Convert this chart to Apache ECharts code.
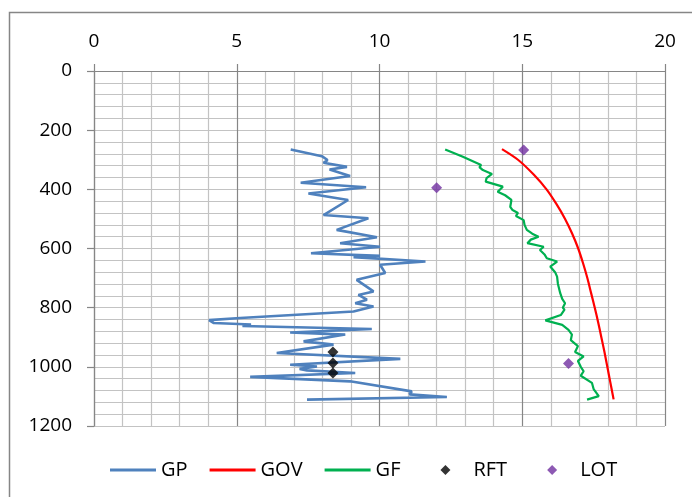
<!DOCTYPE html>
<html>
<head>
<meta charset="utf-8">
<script src="https://cdn.jsdelivr.net/npm/echarts@6/dist/echarts.min.js"></script>
<style>
  html, body { margin: 0; padding: 0; background: #fff; }
  #chart { width: 692px; height: 497px; }
</style>
</head>
<body>
<div id="chart"></div>
<script>
// Pressure gradients vs. depth (x: gradient, y: depth, increasing downward)
const gpDepth = [265, 288, 301, 310, 324, 333, 355, 378, 393, 414, 436, 487, 498, 537, 562, 582, 594, 616, 625, 629, 644, 655, 683, 706, 745, 757, 773, 785, 796, 813, 835, 842, 852, 857, 862, 872, 884, 891, 914, 925, 953, 973, 993, 999, 1007, 1012, 1021, 1034, 1049, 1083, 1088, 1093, 1102, 1111];
const gpValue = [6.89, 7.98, 8.18, 8.04, 8.86, 8.25, 8.97, 7.24, 9.53, 7.51, 8.9, 8.04, 9.61, 8.5, 9.91, 8.62, 10.02, 7.6, 10.02, 9.09, 11.61, 10.02, 10.2, 9.2, 9.79, 9.26, 9.56, 9.15, 9.79, 9.09, 5.12, 4.03, 4.2, 5.5, 5.2, 9.73, 6.87, 8.8, 7.34, 8.39, 6.4, 10.73, 6.87, 7.81, 7.2, 7.46, 9.15, 5.47, 8.97, 11.13, 11.19, 11.05, 12.36, 7.46];

const govDepth = [264, 300, 350, 400, 450, 500, 550, 600, 650, 700, 750, 800, 850, 900, 950, 1000, 1050, 1110];
const govValue = [14.29, 14.85, 15.4, 15.85, 16.2, 16.5, 16.75, 16.96, 17.13, 17.28, 17.41, 17.54, 17.66, 17.77, 17.88, 17.98, 18.08, 18.2];

const gfDepth = [265, 290, 318, 325, 335, 348, 362, 374, 391, 408, 420, 436, 459, 470, 480, 490, 504, 520, 537, 550, 560, 570, 582, 594, 605, 620, 633, 644, 661, 680, 695, 720, 751, 770, 785, 800, 807, 825, 843, 858, 875, 891, 910, 930, 950, 965, 980, 1000, 1015, 1030, 1054, 1075, 1099, 1111];
const gfValue = [12.3, 12.92, 13.56, 13.5, 13.62, 13.94, 13.75, 13.72, 14.32, 14.14, 14.4, 14.62, 14.58, 14.66, 14.85, 14.78, 15.05, 15.08, 15.16, 15.35, 15.57, 15.3, 15.18, 15.75, 15.62, 15.78, 15.86, 16.22, 15.98, 16.15, 16.22, 16.25, 16.33, 16.4, 16.5, 16.42, 16.48, 16.35, 15.81, 16.4, 16.62, 16.74, 16.7, 16.95, 16.85, 17.15, 16.95, 17.05, 17.15, 17.05, 17.44, 17.5, 17.68, 17.27];

const rftDepth = [950, 987, 1021];
const rftValue = [8.37, 8.37, 8.37];

const lotDepth = [267, 395, 989];
const lotValue = [15.05, 12.0, 16.62];

const xTicks = { min: 0, max: 20, step: 5 };
const yTicks = { min: 0, max: 1200, step: 200 };

function pairs(values, depths) {
  return values.map((v, i) => [v, depths[i]]);
}

const FONT = '"Open Sans", "Liberation Sans", sans-serif';
const DARK = '#868686';
const LIGHT = '#c3c3c3';

// Legend icons: a short bar for lines, a small diamond centred in the same slot for points
const LINE_ICON = 'path://M0,4.6 L46,4.6 L46,7.4 L0,7.4 Z';
const DIAMOND_ICON = 'path://M0,0 M46,12 M23,1 L28,6 L23,11 L18,6 Z';

const chart = echarts.init(document.getElementById('chart'), null, { renderer: 'canvas' });

chart.setOption({
  animation: false,
  backgroundColor: '#fff',
  graphic: [{
    type: 'rect',
    shape: { x: 9.5, y: 12.5, width: 720, height: 520 },
    style: { fill: 'none', stroke: DARK, lineWidth: 1.5 },
    silent: true,
    z: 0
  }],
  grid: { left: 94, right: 27, top: 71, bottom: 71 },
  xAxis: {
    type: 'value',
    position: 'top',
    min: xTicks.min, max: xTicks.max, interval: xTicks.step,
    axisLine: { show: true, lineStyle: { color: DARK, width: 1.2 } },
    axisTick: { show: true, length: 7, lineStyle: { color: DARK, width: 1.2 } },
    axisLabel: { fontSize: 19, color: '#000', fontFamily: FONT, margin: 20 },
    splitLine: { show: true, lineStyle: { color: DARK, width: 1.2 } },
    minorTick: { show: false, splitNumber: 5 },
    minorSplitLine: { show: true, lineStyle: { color: LIGHT, width: 1.2 } }
  },
  yAxis: {
    type: 'value',
    inverse: true,
    min: yTicks.min, max: yTicks.max, interval: yTicks.step,
    axisLine: { show: true, lineStyle: { color: DARK, width: 1.2 } },
    axisTick: { show: true, length: 7, lineStyle: { color: DARK, width: 1.2 } },
    axisLabel: { fontSize: 19, color: '#000', fontFamily: FONT, margin: 22, formatter: v => String(v) },
    splitLine: { show: true, lineStyle: { color: LIGHT, width: 1.2 } },
    minorTick: { show: false, splitNumber: 5 },
    minorSplitLine: { show: true, lineStyle: { color: LIGHT, width: 1.2 } }
  },
  legend: {
    left: 105,
    top: 455,
    itemWidth: 46,
    itemHeight: 12,
    itemGap: 22,
    textStyle: { fontSize: 20, color: '#000', fontFamily: FONT },
    data: [
      { name: 'GP', icon: LINE_ICON },
      { name: 'GOV', icon: LINE_ICON },
      { name: 'GF', icon: LINE_ICON },
      { name: 'RFT', icon: DIAMOND_ICON },
      { name: 'LOT', icon: DIAMOND_ICON }
    ]
  },
  series: [
    {
      name: 'GP', type: 'line', data: pairs(gpValue, gpDepth),
      symbol: 'none', color: '#4f81bd',
      lineStyle: { color: '#4f81bd', width: 2.6 }, z: 3
    },
    {
      name: 'GOV', type: 'line', data: pairs(govValue, govDepth),
      symbol: 'none', smooth: 0.3, color: '#ff0000',
      lineStyle: { color: '#ff0000', width: 2.2 }, z: 3
    },
    {
      name: 'GF', type: 'line', data: pairs(gfValue, gfDepth),
      symbol: 'none', color: '#00b050',
      lineStyle: { color: '#00b050', width: 2.2 }, z: 3
    },
    {
      name: 'RFT', type: 'scatter', data: pairs(rftValue, rftDepth),
      symbol: 'diamond', symbolSize: 11, color: '#000000', z: 4
    },
    {
      name: 'LOT', type: 'scatter', data: pairs(lotValue, lotDepth),
      symbol: 'diamond', symbolSize: 11, color: '#7030a0', z: 4
    }
  ]
});
</script>
</body>
</html>
